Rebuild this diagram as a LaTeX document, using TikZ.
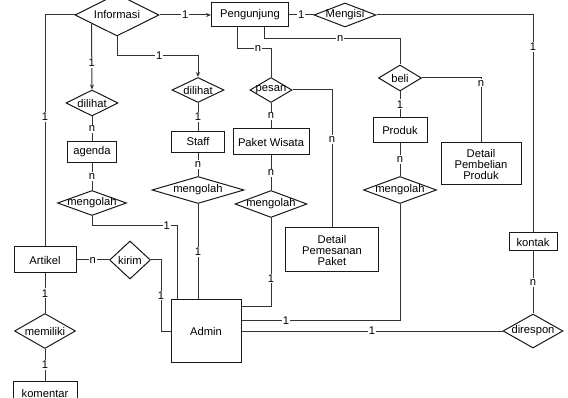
\documentclass[tikz,border=0pt]{standalone}
\usepackage{fontspec}
\setmainfont{Liberation Sans}
\usetikzlibrary{shapes.geometric,arrows.meta,calc}
\begin{document}
\begin{tikzpicture}[x=1pt, y=-1pt, line width=1pt,
  every node/.style={font=\fontsize{11.2}{13}\selectfont},
  ent/.style={draw=black!90, fill=white, rectangle, inner sep=1pt, align=center},
  rel/.style={draw=black!90, fill=white, diamond, inner sep=0pt},
  lbl/.style={fill=white, inner sep=1pt},
  arr/.style={-{Stealth[length=5pt,width=4pt]}},
  con/.style={draw=black!80}]
\useasboundingbox (0,0) rectangle (568,398);
\node[rel, minimum width=84, minimum height=42] (inf) at (117,15) {\makebox[0pt]{Informasi}};
\node[ent, minimum width=77, minimum height=24] (peng) at (250,15) {Pengunjung};
\node[rel, minimum width=62, minimum height=24] (isi) at (345,15) {\makebox[0pt]{Mengisi}};
\node[ent, minimum width=48, minimum height=18] (kontak) at (533,242) {kontak};
\node[rel, minimum width=60, minimum height=34] (respon) at (533,331) {\makebox[0pt]{direspon}};
\node[ent, minimum width=70, minimum height=62] (admin) at (206,331) {Admin};
\node[ent, minimum width=62, minimum height=26] (artikel) at (45,260) {Artikel};
\node[rel, minimum width=41, minimum height=38] (kirim) at (130,260) {\makebox[0pt]{kirim}};
\node[rel, minimum width=61, minimum height=35] (milik) at (45,331) {\makebox[0pt]{memiliki}};
\node[ent, minimum width=64, minimum height=24] (komentar) at (45,393) {komentar};
\node[rel, minimum width=52, minimum height=26] (lihatA) at (92,103) {\makebox[0pt]{dilihat}};
\node[ent, minimum width=49, minimum height=21] (agenda) at (92,152) {agenda};
\node[rel, minimum width=69, minimum height=25] (olahA) at (92,203) {\makebox[0pt]{mengolah}};
\node[rel, minimum width=52, minimum height=25] (lihatS) at (198,90) {\makebox[0pt]{dilihat}};
\node[ent, minimum width=53, minimum height=21] (staff) at (198,142) {Staff};
\node[rel, minimum width=92, minimum height=27] (olahS) at (198,190) {\makebox[0pt]{mengolah}};
\node[rel, minimum width=42, minimum height=25] (pesan) at (271,90) {\makebox[0pt]{pesan}};
\node[ent, minimum width=76, minimum height=26] (paket) at (271,142) {Paket Wisata};
\node[rel, minimum width=72, minimum height=27] (olahP) at (271,204) {\makebox[0pt]{mengolah}};
\node[ent, minimum width=93, minimum height=44, inner sep=0pt] (dpp) at (332,250) {Detail\\[-2pt]Pemesanan\\[-2pt]Paket};
\node[rel, minimum width=43, minimum height=26] (beli) at (400,78) {\makebox[0pt]{beli}};
\node[ent, minimum width=54, minimum height=25] (produk) at (400,130) {Produk};
\node[rel, minimum width=73, minimum height=27] (olahR) at (400,190) {\makebox[0pt]{mengolah}};
\node[ent, minimum width=80, minimum height=42, inner sep=0pt] (dbp) at (481,164) {Detail\\[-2pt]Pembelian\\[-2pt]Produk};

\draw[con, arr] (inf.east) -- node[lbl]{1} (peng.west);
\draw[con] (peng.east) -- node[lbl]{1} (isi.west);
\draw[con] (isi.east) -| node[lbl, pos=0.573]{1} (kontak.north);
\draw[con] (kontak.south) -- node[lbl]{n} (respon.north);
\draw[con] (respon.west) -- node[lbl]{1} (admin.east);
\draw[con] (inf.west) -| node[lbl, pos=0.72]{1} (artikel.north);
\draw[con] (artikel.east) -- node[lbl]{n} (kirim.west);
\draw[con] (artikel.south) -- node[lbl]{1} (milik.north);
\draw[con] (milik.south) -- node[lbl]{1} (komentar.north);
\draw[con] (kirim.east) -- ++(10,0) |- node[lbl, pos=0.25]{1} (admin.west);
\draw[con, arr] ($(inf.west)!0.4!(inf.south)$) -- node[lbl, pos=0.6]{1} (lihatA.north);
\draw[con] (lihatA.south) -- node[lbl]{n} (agenda.north);
\draw[con] (agenda.south) -- node[lbl]{n} (olahA.north);
\draw[con] (olahA.south) -- ++(0,10) -| node[lbl, pos=0.44]{1} ([xshift=-29pt]admin.north);
\draw[con, arr] (inf.south) -- ++(0,19) -| node[lbl, pos=0.26]{1} (lihatS.north);
\draw[con] (lihatS.south) -- node[lbl]{1} (staff.north);
\draw[con] (staff.south) -- node[lbl]{n} (olahS.north);
\draw[con] (olahS.south) -- node[lbl]{1} (olahS.south |- admin.north);
\draw[con] ([xshift=-13pt]peng.south) -- ++(0,21) -| node[lbl, pos=0.31]{n} (pesan.north);
\draw[con] (pesan.south) -- node[lbl]{n} (paket.north);
\draw[con] (paket.south) -- node[lbl]{n} (olahP.north);
\draw[con] (pesan.east) -| node[lbl, pos=0.68]{n} (dpp.north);
\draw[con] ([yshift=24pt]admin.east) -| node[lbl, pos=0.66]{1} (olahP.south);
\draw[con] ([xshift=14pt]peng.south) -- ++(0,11) -| node[lbl, pos=0.28]{n} (beli.north);
\draw[con] (beli.east) -| node[lbl, pos=0.54]{n} (dbp.north);
\draw[con] (beli.south) -- node[lbl]{1} (produk.north);
\draw[con] (produk.south) -- node[lbl]{n} (olahR.north);
\draw[con] ([yshift=10pt]admin.east) -| node[lbl, pos=0.14]{1} (olahR.south);
\end{tikzpicture}
\end{document}
